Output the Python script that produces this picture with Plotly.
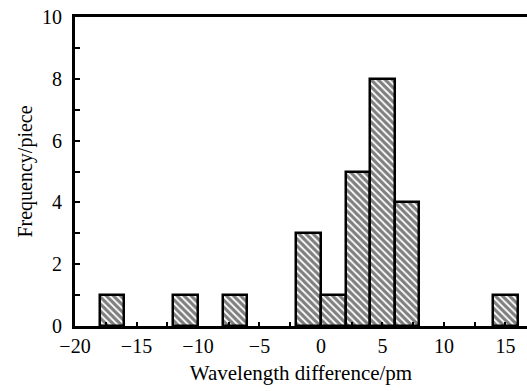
import plotly.graph_objects as go

# Histogram bins (width 2 pm), centers and counts
bin_centers = [-17, -11, -7, -1, 1, 3, 5, 7, 15]
counts = [1, 1, 1, 3, 1, 5, 8, 4, 1]
bin_width = 2

x_tick_vals = [-20, -15, -10, -5, 0, 5, 10, 15]
y_tick_vals = [0, 2, 4, 6, 8, 10]

font_family = "Liberation Serif, Times New Roman, serif"

fig = go.Figure()
fig.add_trace(go.Bar(
    x=bin_centers,
    y=counts,
    width=[bin_width] * len(bin_centers),
    marker=dict(
        color="white",
        line=dict(color="black", width=2.5),
        pattern=dict(shape="\\", fgcolor="black", bgcolor="white",
                     size=5, solidity=0.65, fillmode="overlay"),
    ),
    showlegend=False,
))

fig.update_layout(
    width=527, height=391,
    margin=dict(l=75, r=0, t=17, b=65, autoexpand=False),
    paper_bgcolor="white", plot_bgcolor="white",
    font=dict(family=font_family, size=20, color="black"),
    bargap=0,
)

fig.update_xaxes(
    range=[-20, 16.75],
    tickvals=x_tick_vals,
    automargin=False,
    ticks="inside", ticklen=4, tickwidth=2, tickcolor="black",
    minor=dict(dtick=2.5, tick0=-20, ticks="inside", ticklen=4, tickwidth=2, tickcolor="black"),
    showline=True, linecolor="black", linewidth=3, mirror=True,
    showgrid=False, zeroline=False,
    title=dict(text="Wavelength difference/pm", standoff=10, font=dict(size=21)),
    tickfont=dict(size=20),
)

fig.update_yaxes(
    range=[0, 10],
    tickvals=y_tick_vals,
    automargin=False,
    ticks="inside", ticklen=5, tickwidth=2, tickcolor="black",
    minor=dict(dtick=1, tick0=0, ticks="inside", ticklen=5, tickwidth=2, tickcolor="black"),
    showline=True, linecolor="black", linewidth=3, mirror=False,
    showgrid=False, zeroline=False,
    title=dict(text="Frequency/piece", standoff=5, font=dict(size=20)),
    tickfont=dict(size=20),
    ticklabelstandoff=6,
)

fig.write_html("out.html", config={"displayModeBar": False},
               post_script="document.body.style.margin='0';")
